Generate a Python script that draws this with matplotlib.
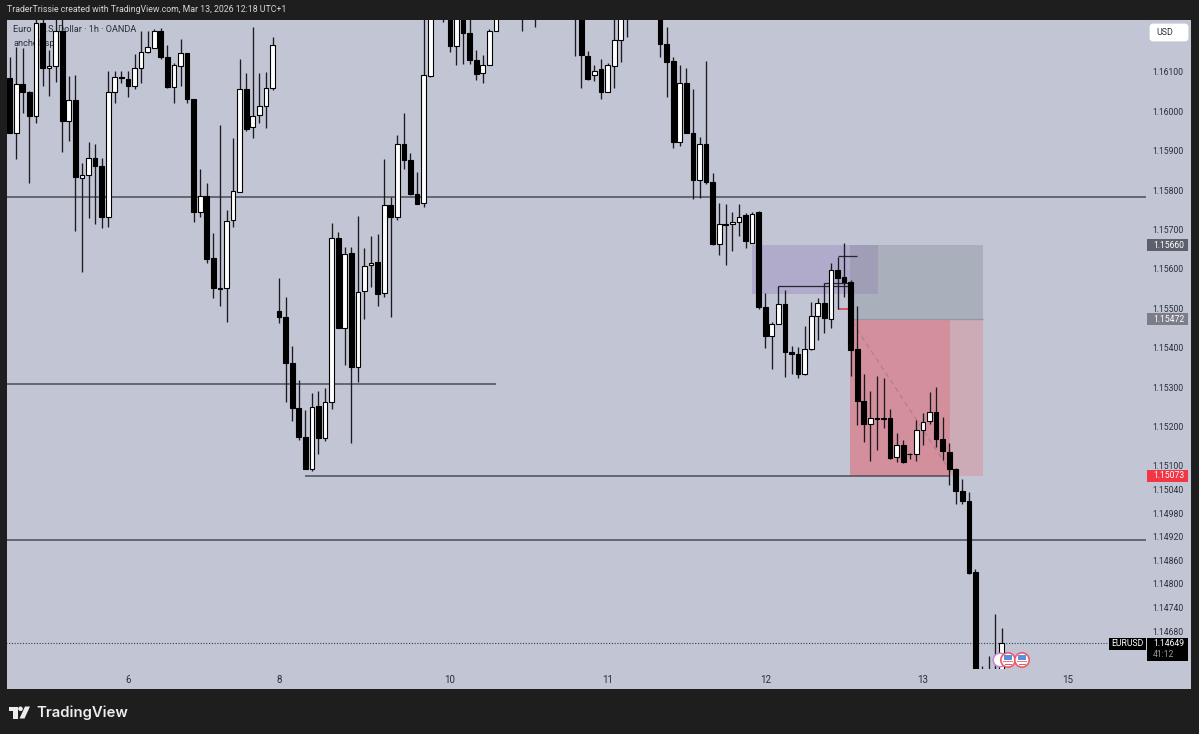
import matplotlib
matplotlib.use("Agg")
import matplotlib.pyplot as plt
from matplotlib.patches import Rectangle, Circle, Polygon, FancyBboxPatch
from matplotlib.transforms import IdentityTransform
import numpy as np

W, H = 1199, 734

opens = [1.16084,1.15944,1.16070,1.16049,1.15988,1.16225,1.16110,1.16115,1.16205,1.15975,
1.16029,1.15830,1.15838,1.15882,1.15860,1.15732,1.16048,1.16088,1.16083,1.16065,
1.16109,1.16150,1.16160,1.16203,1.16138,1.16063,1.16116,1.16147,1.16031,1.15745,
1.15786,1.15628,1.15551,1.15551,1.15723,1.15796,1.16057,1.15960,1.15990,1.16014,
1.16060,1.15492,1.15477,1.15361,1.15248,1.15173,1.15093,1.15252,1.15170,1.15261,
1.15678,1.15451,1.15640,1.15350,1.15544,1.15609,1.15618,1.15538,1.15761,1.15733,
1.15916,1.15877,1.15790,1.15768,1.16090,1.16290,1.16310,1.16300,1.16167,1.16260,
1.16200,1.16131,1.16097,1.16118,1.16204,1.16280,1.16300,1.16320,1.16340,1.16330,
1.16350,1.16340,1.16320,1.16300,1.16320,1.16300,1.16280,1.16270,1.16141,1.16092,
1.16107,1.16050,1.16114,1.16180,1.16250,1.16270,1.16300,1.16310,1.16320,1.16300,
1.16171,1.16128,1.15921,1.16071,1.15946,1.15825,1.15918,1.15821,1.15662,1.15714,
1.15713,1.15719,1.15736,1.15667,1.15745,1.15504,1.15429,1.15460,1.15510,1.15390,
1.15385,1.15332,1.15397,1.15481,1.15514,1.15474,1.15598,1.15579,1.15566,1.15397,
1.15264,1.15206,1.15221,1.15222,1.15221,1.15123,1.15152,1.15131,1.15129,1.15191,
1.15213,1.15236,1.15167,1.15135,1.15092,1.15035,1.15011,1.14830,1.14540,1.14500,
1.14560,1.14560]
highs = [1.16139,1.16164,1.16160,1.16052,1.16245,1.16245,1.16156,1.16240,1.16240,1.16091,
1.16092,1.15868,1.15921,1.15916,1.15881,1.16103,1.16103,1.16103,1.16103,1.16145,
1.16203,1.16205,1.16208,1.16211,1.16169,1.16122,1.16184,1.16147,1.16031,1.15854,
1.15817,1.15690,1.15965,1.15750,1.15932,1.16132,1.16097,1.16214,1.16097,1.16100,
1.16188,1.15576,1.15529,1.15405,1.15319,1.15242,1.15284,1.15291,1.15298,1.15717,
1.15693,1.15655,1.15655,1.15734,1.15652,1.15684,1.15689,1.15880,1.15782,1.15940,
1.15995,1.15895,1.15846,1.16260,1.16310,1.16340,1.16350,1.16320,1.16280,1.16290,
1.16240,1.16156,1.16143,1.16210,1.16300,1.16330,1.16340,1.16360,1.16370,1.16370,
1.16380,1.16370,1.16350,1.16340,1.16350,1.16330,1.16310,1.16300,1.16154,1.16118,
1.16132,1.16122,1.16250,1.16270,1.16290,1.16310,1.16330,1.16340,1.16350,1.16320,
1.16214,1.16139,1.16118,1.16109,1.16057,1.15936,1.16128,1.15844,1.15768,1.15766,
1.15745,1.15764,1.15742,1.15745,1.15747,1.15540,1.15466,1.15557,1.15546,1.15405,
1.15402,1.15455,1.15516,1.15527,1.15563,1.15614,1.15631,1.15665,1.15573,1.15506,
1.15333,1.15290,1.15328,1.15322,1.15245,1.15184,1.15165,1.15133,1.15216,1.15233,
1.15287,1.15300,1.15223,1.15158,1.15094,1.15066,1.15034,1.14839,1.14591,1.14617,
1.14723,1.14687]
lows = [1.15944,1.15879,1.15995,1.15819,1.15970,1.16065,1.16040,1.16074,1.15898,1.15926,
1.15695,1.15593,1.15729,1.15714,1.15704,1.15707,1.16021,1.16071,1.16036,1.16056,
1.16071,1.16148,1.16160,1.16132,1.16059,1.16021,1.16065,1.16021,1.15720,1.15733,
1.15614,1.15525,1.15507,1.15465,1.15707,1.15794,1.15949,1.15933,1.15970,1.15957,
1.16054,1.15462,1.15263,1.15214,1.15165,1.15091,1.15087,1.15129,1.15164,1.15243,
1.15449,1.15356,1.15157,1.15314,1.15472,1.15555,1.15507,1.15529,1.15479,1.15724,
1.15854,1.15788,1.15765,1.15756,1.16088,1.16250,1.16228,1.16152,1.16118,1.16120,
1.16120,1.16080,1.16071,1.16117,1.16203,1.16250,1.16260,1.16270,1.16203,1.16270,
1.16215,1.16280,1.16270,1.16260,1.16260,1.16250,1.16141,1.16060,1.16080,1.16076,
1.16031,1.16050,1.16059,1.16126,1.16188,1.16240,1.16250,1.16250,1.16260,1.16137,
1.16037,1.15908,1.15913,1.15946,1.15777,1.15779,1.15816,1.15660,1.15635,1.15609,
1.15646,1.15683,1.15654,1.15665,1.15499,1.15400,1.15345,1.15459,1.15326,1.15334,
1.15323,1.15330,1.15394,1.15419,1.15436,1.15450,1.15499,1.15529,1.15328,1.15203,
1.15161,1.15112,1.15141,1.15197,1.15118,1.15110,1.15106,1.15116,1.15112,1.15152,
1.15207,1.15148,1.15114,1.15051,1.15003,1.15002,1.14825,1.14500,1.14480,1.14470,
1.14500,1.14530]
closes = [1.15946,1.16070,1.16049,1.15989,1.16225,1.16111,1.16115,1.16205,1.15975,1.16029,
1.15833,1.15838,1.15882,1.15860,1.15732,1.16048,1.16087,1.16085,1.16065,1.16111,
1.16152,1.16164,1.16203,1.16138,1.16063,1.16118,1.16147,1.16031,1.15745,1.15786,
1.15626,1.15551,1.15550,1.15721,1.15798,1.16057,1.15956,1.15988,1.16014,1.16060,
1.16169,1.15477,1.15361,1.15246,1.15173,1.15093,1.15250,1.15170,1.15263,1.15678,
1.15449,1.15637,1.15350,1.15542,1.15607,1.15616,1.15536,1.15761,1.15732,1.15916,
1.15877,1.15789,1.15765,1.16092,1.16290,1.16310,1.16300,1.16167,1.16260,1.16200,
1.16131,1.16096,1.16118,1.16204,1.16280,1.16300,1.16320,1.16340,1.16330,1.16350,
1.16340,1.16320,1.16300,1.16320,1.16300,1.16280,1.16270,1.16142,1.16083,1.16103,
1.16050,1.16117,1.16180,1.16250,1.16270,1.16300,1.16310,1.16320,1.16300,1.16170,
1.16125,1.15921,1.16071,1.15946,1.15825,1.15918,1.15821,1.15662,1.15713,1.15712,
1.15718,1.15733,1.15671,1.15740,1.15504,1.15429,1.15460,1.15510,1.15390,1.15385,
1.15332,1.15397,1.15481,1.15514,1.15476,1.15598,1.15578,1.15566,1.15394,1.15264,
1.15207,1.15221,1.15219,1.15220,1.15121,1.15153,1.15109,1.15129,1.15191,1.15212,
1.15236,1.15167,1.15138,1.15092,1.15035,1.15010,1.14827,1.14530,1.14500,1.14560,
1.14570,1.14649]

level_prices = [1.15783, 1.15308, 1.15073, 1.14912]
level_starts = [-1, -1, 45, -1]
level_ends = [174, 74, 143.1, 174]

y_ticks = [1.16100,1.16000,1.15900,1.15800,1.15700,1.15600,1.15500,1.15400,1.15300,1.15200,
           1.15100,1.15040,1.14980,1.14920,1.14860,1.14800,1.14740,1.14680]
x_tick_pos = [18, 41, 67, 91, 115, 139, 161]
x_tick_lab = ["6", "8", "10", "11", "12", "13", "15"]

entry_zone = (113, 132.15, 1.15537, 1.15660)
stop_price, entry_price, target_price = 1.15660, 1.15472, 1.15073
pos_x0, pos_xmid, pos_x1 = 127.9, 143.1, 148.1
last_price = 1.14649

BG = "#c2c6d4"
DARK = "#1e1e1e"
TXT = "#2a2e39"
FONT = "Roboto"
STEP = 6.57

fig = plt.figure(figsize=(W/100, H/100), dpi=100, facecolor=DARK)
ident = IdentityTransform()
def P(x, y):
    return (x, H - y)

fig.add_artist(Rectangle(P(7, 689), 1184, 669.5, transform=ident, fc=BG, ec="none", zorder=-5))

ax = fig.add_axes([7/W, 1-669/H, 1139/W, 649/H], facecolor="none")
ax.set_xlim((7-9.7)/STEP, (1146-9.7)/STEP)
ax.set_ylim(1.14584, 1.16232)
for s in ax.spines.values():
    s.set_visible(False)

# position tool zones
x0, x1, z0, z1 = entry_zone
ax.add_patch(Rectangle((x0, z0), x1-x0, z1-z0, fc="#b0aacb", ec="none", zorder=1))
ax.add_patch(Rectangle((pos_x0, entry_price), pos_x1-pos_x0, stop_price-entry_price, fc="#aab0bb", ec="none", zorder=1.1))
ax.add_patch(Rectangle((pos_x0, z0), x1-pos_x0, z1-z0, fc="#a09eb6", ec="none", zorder=1.2))
ax.add_patch(Rectangle((pos_x0, target_price), pos_xmid-pos_x0, entry_price-target_price, fc="#d48f9d", ec="none", zorder=1.1))
ax.add_patch(Rectangle((pos_xmid, target_price), pos_x1-pos_xmid, entry_price-target_price, fc="#ccaab6", ec="none", zorder=1.1))
ax.hlines(entry_price, pos_x0, pos_x1, color="#8f96a6", lw=0.9, zorder=1.3)
ax.plot([128.2, 143.4], [1.15466, 1.15080], color="#ad7f90", lw=0.9, ls=(0, (4, 3)), zorder=1.4)

# horizontal levels
for p, a, b in zip(level_prices, level_starts, level_ends):
    ax.hlines(p, a, b, color="#4a4c57", lw=1.1, zorder=2)
ax.hlines(last_price, -1, 167.3, color="#3c3f4a", lw=0.8, ls=(0, (1, 1.5)), zorder=2)

# drawn brackets
ax.hlines([1.15557, 1.15563, 1.15632], [117, 124, 126], [127.7, 127.7, 129], color="#26262e", lw=0.9, zorder=2.5)
ax.hlines(1.15499, 126, 127.7, color="#e0404f", lw=1.2, zorder=2.5)

# legend text sits below the candles
ax.text(13, H-30, "Euro / U.S. Dollar · 1h · OANDA", transform=ident, fontsize=6.6, family=FONT,
        color=TXT, va="center", ha="left", zorder=1)
ax.text(13, H-43, "anchelsspns", transform=ident, fontsize=6.6, family=FONT,
        color=TXT, va="center", ha="left", zorder=1)

# candles
idx = np.arange(len(opens))
o, h, l, c = map(np.array, (opens, highs, lows, closes))
ax.vlines(idx, l, h, color="#1a1a1f", lw=0.95, zorder=3)
up = c >= o
ax.bar(idx[up], (c-o)[up], bottom=o[up], width=0.72, color="white", edgecolor="black", linewidth=0.8, zorder=4)
ax.bar(idx[~up], (c-o)[~up], bottom=o[~up], width=0.72, color="black", edgecolor="black", linewidth=0.8, zorder=4)

# axes
ax.yaxis.tick_right()
ax.set_yticks(y_ticks)
ax.set_yticklabels([f"{v:.5f}" for v in y_ticks], family=FONT, fontsize=6.2, color=TXT)
ax.set_xticks(x_tick_pos)
ax.set_xticklabels(x_tick_lab, family=FONT, fontsize=7.0, color=TXT)
ax.tick_params(axis="both", length=0)
ax.tick_params(axis="y", pad=4.2)
ax.tick_params(axis="x", pad=4.3)

def box(x0, y0, x1, y1, fc):
    fig.add_artist(Rectangle(P(x0, y1), x1-x0, y1-y0, transform=ident, fc=fc, ec="none", zorder=5))
def label(x, y, s, color="white", ha="left", size=6.2, weight="normal"):
    fig.text(x, H-y, s, transform=ident, color=color, ha=ha, va="center", fontsize=size,
             family=FONT, weight=weight, zorder=6)

box(1147, 239, 1188, 251, "#5d606b"); label(1153, 245, f"{stop_price:.5f}")
box(1147, 313, 1188, 325, "#7b7e89"); label(1153, 319, f"{entry_price:.5f}")
box(1147, 469.5, 1188, 482, "#f23645"); label(1153, 476, f"{target_price:.5f}")
box(1109, 638, 1146, 650, "black"); label(1127.5, 644, "EURUSD", ha="center", size=6.2)
box(1147, 638, 1188, 661, "black"); label(1153, 644, f"{last_price:.5f}")
label(1153, 654.5, "41:12", color="#9a9ca3")

fig.add_artist(FancyBboxPatch(P(1151, 40), 36, 15, boxstyle="round,pad=0,rounding_size=2", transform=ident,
                              fc="white", ec="white", lw=2, zorder=5))
label(1156, 32.5, "USD", color=TXT, size=6.4)

# event markers
fig.add_artist(Circle(P(1000, 660), 6.8, transform=ident, fc="white", ec="#c58ad0", lw=1.1, zorder=5))
for cx in (1008, 1022):
    fig.add_artist(Circle(P(cx, 660), 7.2, transform=ident, fc="white", ec="#ee5a6a", lw=1.2, zorder=5.1))
    fig.add_artist(Rectangle(P(cx-4, 659.5), 8, 5, transform=ident, fc="#5b8fe0", ec="none", zorder=5.2))
    fig.add_artist(Rectangle(P(cx-5, 662), 10, 1.2, transform=ident, fc="#e87a86", ec="none", zorder=5.2))
    fig.add_artist(Rectangle(P(cx-3.5, 665), 7, 1.2, transform=ident, fc="#e85a68", ec="none", zorder=5.2))

# header + watermark
fig.text(7, H-10, "TraderTrissie created with TradingView.com, Mar 13, 2026 12:18 UTC+1", transform=ident,
         color="#d6d6d6", fontsize=6.3, family=FONT, va="center", ha="left")
fig.text(36, H-712.5, "TradingView", transform=ident, color="#ededed", fontsize=10.7, family="Inter",
         weight="semibold", va="center", ha="left")
for pts in ([(9, 706.5), (17.5, 706.5), (17.5, 718.5), (13, 718.5), (13, 711), (9, 711)],
            [(25, 706.5), (30, 706.5), (24.5, 718.5), (19.5, 718.5)]):
    fig.add_artist(Polygon([P(*q) for q in pts], transform=ident, fc="#ededed", ec="none"))
fig.add_artist(Circle(P(20.5, 708.8), 2.3, transform=ident, fc="#ededed", ec="none"))

fig.savefig("out.png", dpi=100, facecolor=DARK)
